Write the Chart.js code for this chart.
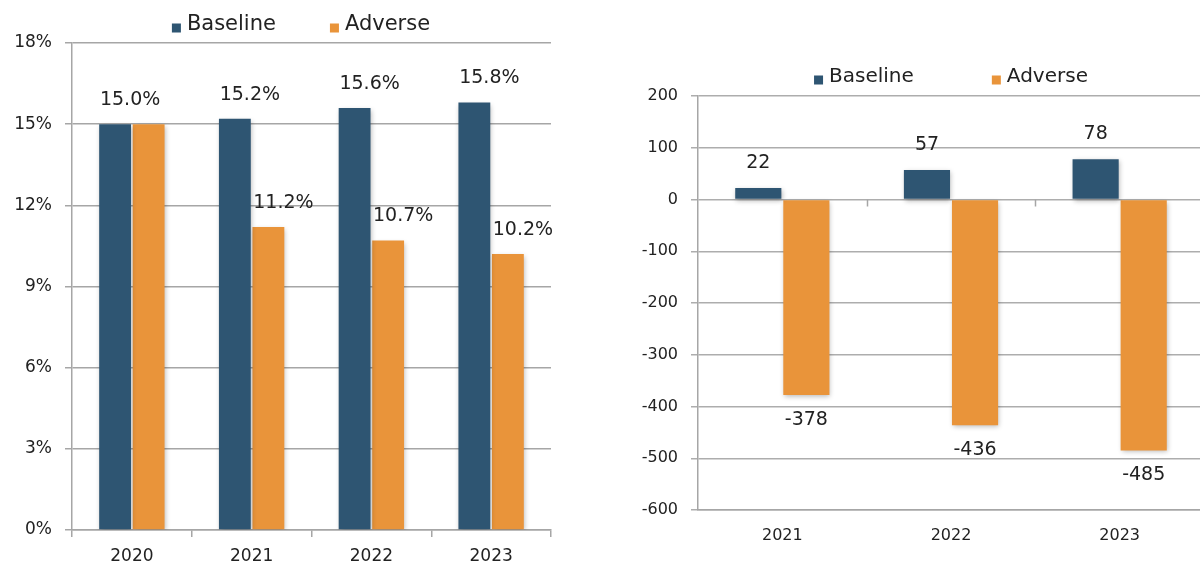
<!DOCTYPE html>
<html><head><meta charset="utf-8">
<script src="https://cdn.jsdelivr.net/npm/chart.js@4.4.1/dist/chart.umd.min.js"></script>
<style>
html,body{margin:0;padding:0;width:1200px;height:566px;overflow:hidden;background:#fff;}
#c1{position:absolute;left:0;top:0;}
#c2{position:absolute;left:600px;top:0;}
</style></head><body>
<canvas id="c1" width="600" height="566"></canvas>
<canvas id="c2" width="700" height="566"></canvas>
<script>
// ---- data ----
const seriesNames = ['Baseline', 'Adverse'];
const ratioYears = ['2020', '2021', '2022', '2023'];
const ratioBaseline = [15.0, 15.2, 15.6, 15.8];
const ratioAdverse = [15.0, 11.2, 10.7, 10.2];
const ratioTicks = [0, 3, 6, 9, 12, 15, 18];
const deltaYears = ['2021', '2022', '2023'];
const deltaBaseline = [22, 57, 78];
const deltaAdverse = [-378, -436, -485];
const deltaTicks = [-600, -500, -400, -300, -200, -100, 0, 100, 200];

const BLUE = '#2e5572';
const ORANGE = '#e9943a';
const GRID = '#a6a6a6';
const TEXT = '#222222';
const FONT = "'DejaVu Sans', sans-serif";

// legend drawn with the chart
const legendPlugin = {
  id: 'topLegend',
  afterDraw(chart, args, o) {
    const ctx = chart.ctx;
    ctx.save();
    ctx.font = o.size + 'px ' + FONT;
    ctx.textBaseline = 'middle';
    const items = chart.data.datasets.map(d => ({ t: d.label, c: d.backgroundColor, w: ctx.measureText(d.label).width }));
    const box = 9, g1 = 6;
    let total = items.reduce((s, it) => s + box + g1 + it.w, 0) + o.gap * (items.length - 1);
    const cx = o.cx != null ? o.cx : (chart.chartArea.left + chart.chartArea.right) / 2;
    let x = cx - total / 2;
    items.forEach(it => {
      ctx.fillStyle = it.c;
      ctx.fillRect(x, o.cy - box / 2 + 3, box, box);
      x += box + g1;
      ctx.fillStyle = TEXT;
      ctx.textAlign = 'left';
      ctx.fillText(it.t, x, o.cy);
      x += it.w + o.gap;
    });
    ctx.restore();
  }
};

// bar shadows + value labels + ticks on zero line
const barDecor = {
  id: 'barDecor',
  beforeDatasetsDraw(chart) {
    const ctx = chart.ctx;
    ctx.save();
    ctx.shadowColor = 'rgba(0,0,0,0.28)';
    ctx.shadowBlur = 5;
    ctx.shadowOffsetX = 1;
    ctx.shadowOffsetY = 2;
  },
  afterDatasetsDraw(chart, args, o) {
    const ctx = chart.ctx;
    ctx.restore();
    ctx.save();
    if (o.zeroTicks) {
      const xs = chart.scales.x, ys = chart.scales.y;
      const y0 = ys.getPixelForValue(0);
      const n = chart.data.labels.length;
      const cw = (xs.right - xs.left) / n;
      ctx.strokeStyle = GRID;
      ctx.lineWidth = 1.5;
      for (let i = 1; i < n; i++) {
        const bx = Math.round(xs.left + i * cw) + 0.5;
        ctx.beginPath(); ctx.moveTo(bx, y0); ctx.lineTo(bx, y0 + 7); ctx.stroke();
      }
    }
    ctx.font = o.size + 'px ' + FONT;
    ctx.fillStyle = TEXT;
    ctx.textAlign = 'center';
    ctx.textBaseline = 'middle';
    const ds = chart.data.datasets;
    ds.forEach((d, di) => {
      const meta = chart.getDatasetMeta(di);
      meta.data.forEach((el, i) => {
        const v = d.data[i];
        if (di > 0 && o.skipDup && v === ds[0].data[i]) return;
        const y = v >= 0 ? el.y - o.off : el.y + o.off;
        ctx.fillText(o.fmt(v), el.x + o.dx[di], y);
      });
    });
    ctx.restore();
  }
};

function tickList(arr) { return s => { s.ticks = arr.map(v => ({ value: v })); }; }

// ---- left chart ----
new Chart(document.getElementById('c1'), {
  type: 'bar',
  data: {
    labels: ratioYears,
    datasets: [
      { label: seriesNames[0], data: ratioBaseline, backgroundColor: BLUE },
      { label: seriesNames[1], data: ratioAdverse, backgroundColor: ORANGE }
    ]
  },
  options: {
    responsive: false, animation: false, devicePixelRatio: 1,
    layout: { padding: { top: 43, right: 49, bottom: 0, left: 0 } },
    datasets: { bar: { categoryPercentage: 0.56, barPercentage: 0.95 } },
    scales: {
      x: {
        grid: { offset: true, drawOnChartArea: false, drawTicks: true, tickLength: 7, color: GRID, lineWidth: 1.5 },
        border: { color: GRID, width: 1.5 },
        ticks: { font: { family: FONT, size: 17 }, color: TEXT, padding: 9 },
        afterFit: s => { s.height = 36; }
      },
      y: {
        min: 0, max: 18,
        afterBuildTicks: tickList(ratioTicks),
        grid: { color: GRID, lineWidth: 1.5, drawTicks: true, tickLength: 7 },
        border: { color: GRID, width: 1.5 },
        ticks: { font: { family: FONT, size: 17 }, color: TEXT, padding: 13, callback: v => v + '%' },
        afterFit: s => { s.width = 72; }
      }
    },
    plugins: {
      legend: { display: false },
      tooltip: { enabled: false },
      topLegend: { size: 21, cx: 301, cy: 25, gap: 54 },
      barDecor: { size: 19, off: 24, dx: [15, 15], skipDup: true, fmt: v => v.toFixed(1) + '%' }
    }
  },
  plugins: [legendPlugin, barDecor]
});

// ---- right chart ----
new Chart(document.getElementById('c2'), {
  type: 'bar',
  data: {
    labels: deltaYears,
    datasets: [
      { label: seriesNames[0], data: deltaBaseline, backgroundColor: BLUE },
      { label: seriesNames[1], data: deltaAdverse, backgroundColor: ORANGE }
    ]
  },
  options: {
    responsive: false, animation: false, devicePixelRatio: 1,
    layout: { padding: { top: 96, right: 96, bottom: 0, left: 0 } },
    datasets: { bar: { categoryPercentage: 0.57, barPercentage: 0.96 } },
    scales: {
      x: {
        grid: { offset: true, drawOnChartArea: false, drawTicks: false, color: GRID },
        border: { color: GRID, width: 1.5 },
        ticks: { font: { family: FONT, size: 16 }, color: TEXT, padding: 16 },
        afterFit: s => { s.height = 56; }
      },
      y: {
        min: -600, max: 200,
        afterBuildTicks: tickList(deltaTicks),
        grid: { color: '#adadad', lineWidth: 1.5, drawTicks: true, tickLength: 7 },
        border: { color: GRID, width: 1.5 },
        ticks: { font: { family: FONT, size: 16 }, color: TEXT, padding: 13 },
        afterFit: s => { s.width = 98; }
      }
    },
    plugins: {
      legend: { display: false },
      tooltip: { enabled: false },
      topLegend: { size: 20, cy: 77, gap: 78 },
      barDecor: { size: 19, off: 25, dx: [0, 0], zeroTicks: true, fmt: v => String(v) }
    }
  },
  plugins: [legendPlugin, barDecor]
});
</script>
</body></html>
